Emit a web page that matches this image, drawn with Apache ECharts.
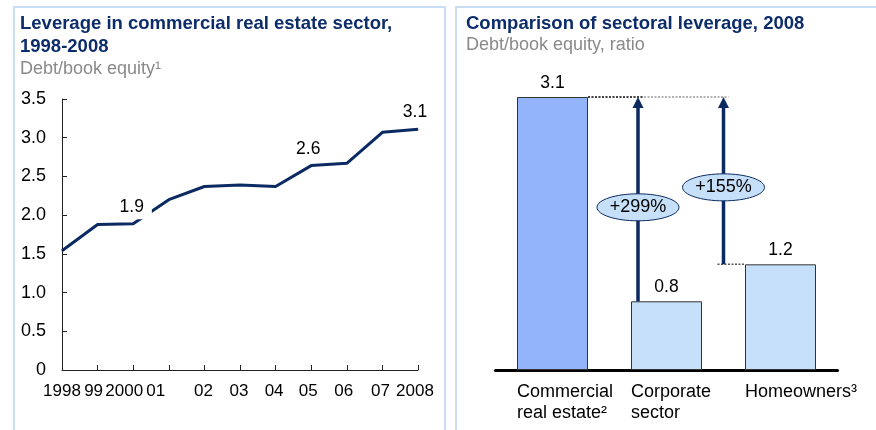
<!DOCTYPE html>
<html>
<head>
<meta charset="utf-8">
<script src="https://cdn.jsdelivr.net/npm/echarts@6/dist/echarts.min.js"></script>
<style>
  html, body { margin: 0; padding: 0; background: #ffffff; }
  #chart { width: 876px; height: 430px; }
</style>
</head>
<body>
<div id="chart"></div>
<script>
// ---------------- DATA ----------------
const years = ['1998', '99', '2000', '01', '02', '03', '04', '05', '06', '07', '2008'];
const leverage = [1.54, 1.88, 1.89, 2.20, 2.37, 2.39, 2.37, 2.64, 2.67, 3.07, 3.11];
const labelledYears = ['2000', '05', '2008'];
const labelledText = ['1.9', '2.6', '3.1'];
const yTicks = [0, 0.5, 1.0, 1.5, 2.0, 2.5, 3.0, 3.5];

const sectors = ['Commercial\nreal estate²', 'Corporate\nsector', 'Homeowners³'];
const sectorLeverage = [3.1, 0.78, 1.2];
const compareSectors = [1, 2];            // compared against sector 0
const compareText = ['+299%', '+155%'];

// ---------------- STYLE / LAYOUT ----------------
const NAVY = '#0b2a62';
const TITLE = '#0c2c6a';
const SUB = '#8a8a8a';
const FONT = 'Liberation Sans, Arial, sans-serif';
const yearLabelShift = [0, -4, -9, -13, -1, -1, -1.5, -3, -3, -2, -3];
const arrowOffset = [-0.25, -0.5];        // fraction of category width from category centre
const barW = 71;

const rich = {};
yearLabelShift.forEach((s, i) => {
  rich['s' + i] = { fontSize: 17, fontFamily: FONT, color: '#000',
    padding: s < 0 ? [0, -2 * s, 0, 0] : [0, 0, 0, 2 * s] };
});

const lineData = leverage.map((v, i) => {
  const k = labelledYears.indexOf(years[i]);
  if (k < 0) return v;
  const item = { value: v, label: { show: true, formatter: labelledText[k] } };
  if (years[i] === '2000') {
    item.label.backgroundColor = '#ffffff';
    item.label.padding = [2, 8, 3, 2];
    item.label.offset = [1.5, 0];
    item.label.distance = 4;
  } else if (years[i] === '05') {
    item.label.offset = [-3, 0];
    item.label.distance = 7;
  } else {
    item.label.offset = [-3, 0];
    item.label.distance = 8;
  }
  return item;
});

const compareData = compareSectors.map((s, i) => [s, sectorLeverage[s], sectorLeverage[0], compareText[i], i]);

const chart = echarts.init(document.getElementById('chart'), null, { renderer: 'canvas' });

chart.setOption({
  animation: false,
  backgroundColor: '#ffffff',
  textStyle: { fontFamily: FONT },
  graphic: [
    { type: 'rect', shape: { x: 14, y: 7, width: 431, height: 440 },
      style: { fill: 'none', stroke: '#c9ddf5', lineWidth: 2 }, silent: true },
    { type: 'rect', shape: { x: 456, y: 7, width: 440, height: 440 },
      style: { fill: 'none', stroke: '#c9ddf5', lineWidth: 2 }, silent: true }
  ],
  title: [
    { text: 'Leverage in commercial real estate sector,\n1998-2008', left: 20, top: 12, padding: 0,
      textStyle: { fontSize: 18.5, fontWeight: 'bold', color: TITLE, lineHeight: 23, fontFamily: FONT } },
    { text: 'Debt/book equity¹', left: 20, top: 59, padding: 0,
      textStyle: { fontSize: 18, fontWeight: 'normal', color: SUB, lineHeight: 21, fontFamily: FONT } },
    { text: 'Comparison of sectoral leverage, 2008', left: 466, top: 12, padding: 0,
      textStyle: { fontSize: 18.5, fontWeight: 'bold', color: TITLE, lineHeight: 23, fontFamily: FONT } },
    { text: 'Debt/book equity, ratio', left: 466, top: 35, padding: 0,
      textStyle: { fontSize: 18, fontWeight: 'normal', color: SUB, lineHeight: 21, fontFamily: FONT } }
  ],
  grid: [
    { left: 62, right: 876 - 418, top: 99, bottom: 60 },
    { left: 495.5, right: 876 - 837.5, top: 97, bottom: 60 }
  ],
  xAxis: [
    { type: 'category', gridIndex: 0, data: years, boundaryGap: false,
      axisLine: { lineStyle: { color: '#222', width: 1 } },
      axisTick: { inside: true, length: 5, lineStyle: { color: '#222' }, interval: 0 },
      axisLabel: { interval: 0, margin: 13,
        formatter: (v, i) => '{s' + i + '|' + v + '}', rich: rich },
      splitLine: { show: false } },
    { type: 'category', gridIndex: 1, data: sectors,
      axisLine: { lineStyle: { color: '#000', width: 3 } },
      axisTick: { show: false },
      axisLabel: { interval: 0, margin: 12, align: 'left', padding: [0, 0, 0, -barW / 2],
        fontSize: 18, lineHeight: 21, color: '#000', fontFamily: FONT } }
  ],
  yAxis: [
    { type: 'value', gridIndex: 0, min: 0, max: 3.5, interval: 0.5,
      axisLine: { show: true, lineStyle: { color: '#222', width: 1 } },
      axisTick: { show: true, inside: true, length: 5, lineStyle: { color: '#222' } },
      axisLabel: { margin: 16, fontSize: 18, color: '#000', fontFamily: FONT,
        formatter: v => (yTicks.indexOf(v) >= 0 ? (v === 0 ? '0' : v.toFixed(1)) : '') },
      splitLine: { show: false } },
    { type: 'value', gridIndex: 1, min: 0, max: 3.1, show: false, splitLine: { show: false } }
  ],
  series: [
    { type: 'line', xAxisIndex: 0, yAxisIndex: 0, data: lineData,
      symbol: 'circle', symbolSize: 1, showSymbol: true, showAllSymbol: true,
      itemStyle: { color: NAVY },
      lineStyle: { color: NAVY, width: 3 },
      label: { show: false, position: 'top', fontSize: 17.5, color: '#000', fontFamily: FONT },
      z: 3 },
    { type: 'bar', xAxisIndex: 1, yAxisIndex: 1, barWidth: barW,
      data: sectorLeverage.map((v, i) => ({ value: v,
        itemStyle: { color: i === 0 ? '#93b3fb' : '#c7e0f9' } })),
      itemStyle: { borderColor: '#333', borderWidth: 1 },
      label: { show: true, position: 'top', distance: 5, fontSize: 17.5, color: '#000',
        fontFamily: FONT, formatter: p => p.value.toFixed(1) },
      z: 2 },
    { type: 'custom', xAxisIndex: 1, yAxisIndex: 1, data: compareData, z: 5,
      renderItem: (params, api) => {
        const cat = api.value(0), from = api.value(1), to = api.value(2);
        const k = api.value(4);
        const catW = api.size([1, 0])[0];
        const base = api.coord([cat, from]);
        const top = api.coord([cat, to]);
        const ax = base[0] + arrowOffset[k] * catW;
        const cre = api.coord([0, to]);
        const creRight = cre[0] + barW / 2;
        const barLeft = base[0] - barW / 2;
        const headH = 11, headW = 11;
        const midVal = from + 0.46 * (to - from);
        const mid = api.coord([cat, midVal]);
        const children = [];
        children.push({ type: 'line', z2: k === 0 ? 3 : 1,
          shape: { x1: creRight, y1: top[1], x2: ax + 5, y2: top[1] },
          style: { stroke: k === 0 ? '#222' : '#999', lineWidth: 1.5, lineDash: [2, 1.5] } });
        if (ax < barLeft) {
          children.push({ type: 'line', z2: 1,
            shape: { x1: ax - 6, y1: base[1], x2: barLeft, y2: base[1] },
            style: { stroke: '#555', lineWidth: 1.5, lineDash: [2, 1.5] } });
        }
        children.push({ type: 'line', z2: 4,
          shape: { x1: ax, y1: base[1], x2: ax, y2: top[1] + headH - 1 },
          style: { stroke: NAVY, lineWidth: 3.5 } });
        children.push({ type: 'polygon', z2: 4,
          shape: { points: [[ax, top[1]], [ax - headW / 2, top[1] + headH], [ax + headW / 2, top[1] + headH]] },
          style: { fill: NAVY } });
        children.push({ type: 'ellipse', z2: 6,
          shape: { cx: ax, cy: mid[1], rx: 41, ry: 13.5 },
          style: { fill: '#c7e0f9', stroke: NAVY, lineWidth: 1 } });
        children.push({ type: 'text', z2: 7,
          style: { text: api.value(3), x: ax, y: mid[1], align: 'center', verticalAlign: 'middle',
            fontSize: 18, fontFamily: FONT, fill: '#000' } });
        return { type: 'group', children: children };
      } }
  ]
});
</script>
</body>
</html>
